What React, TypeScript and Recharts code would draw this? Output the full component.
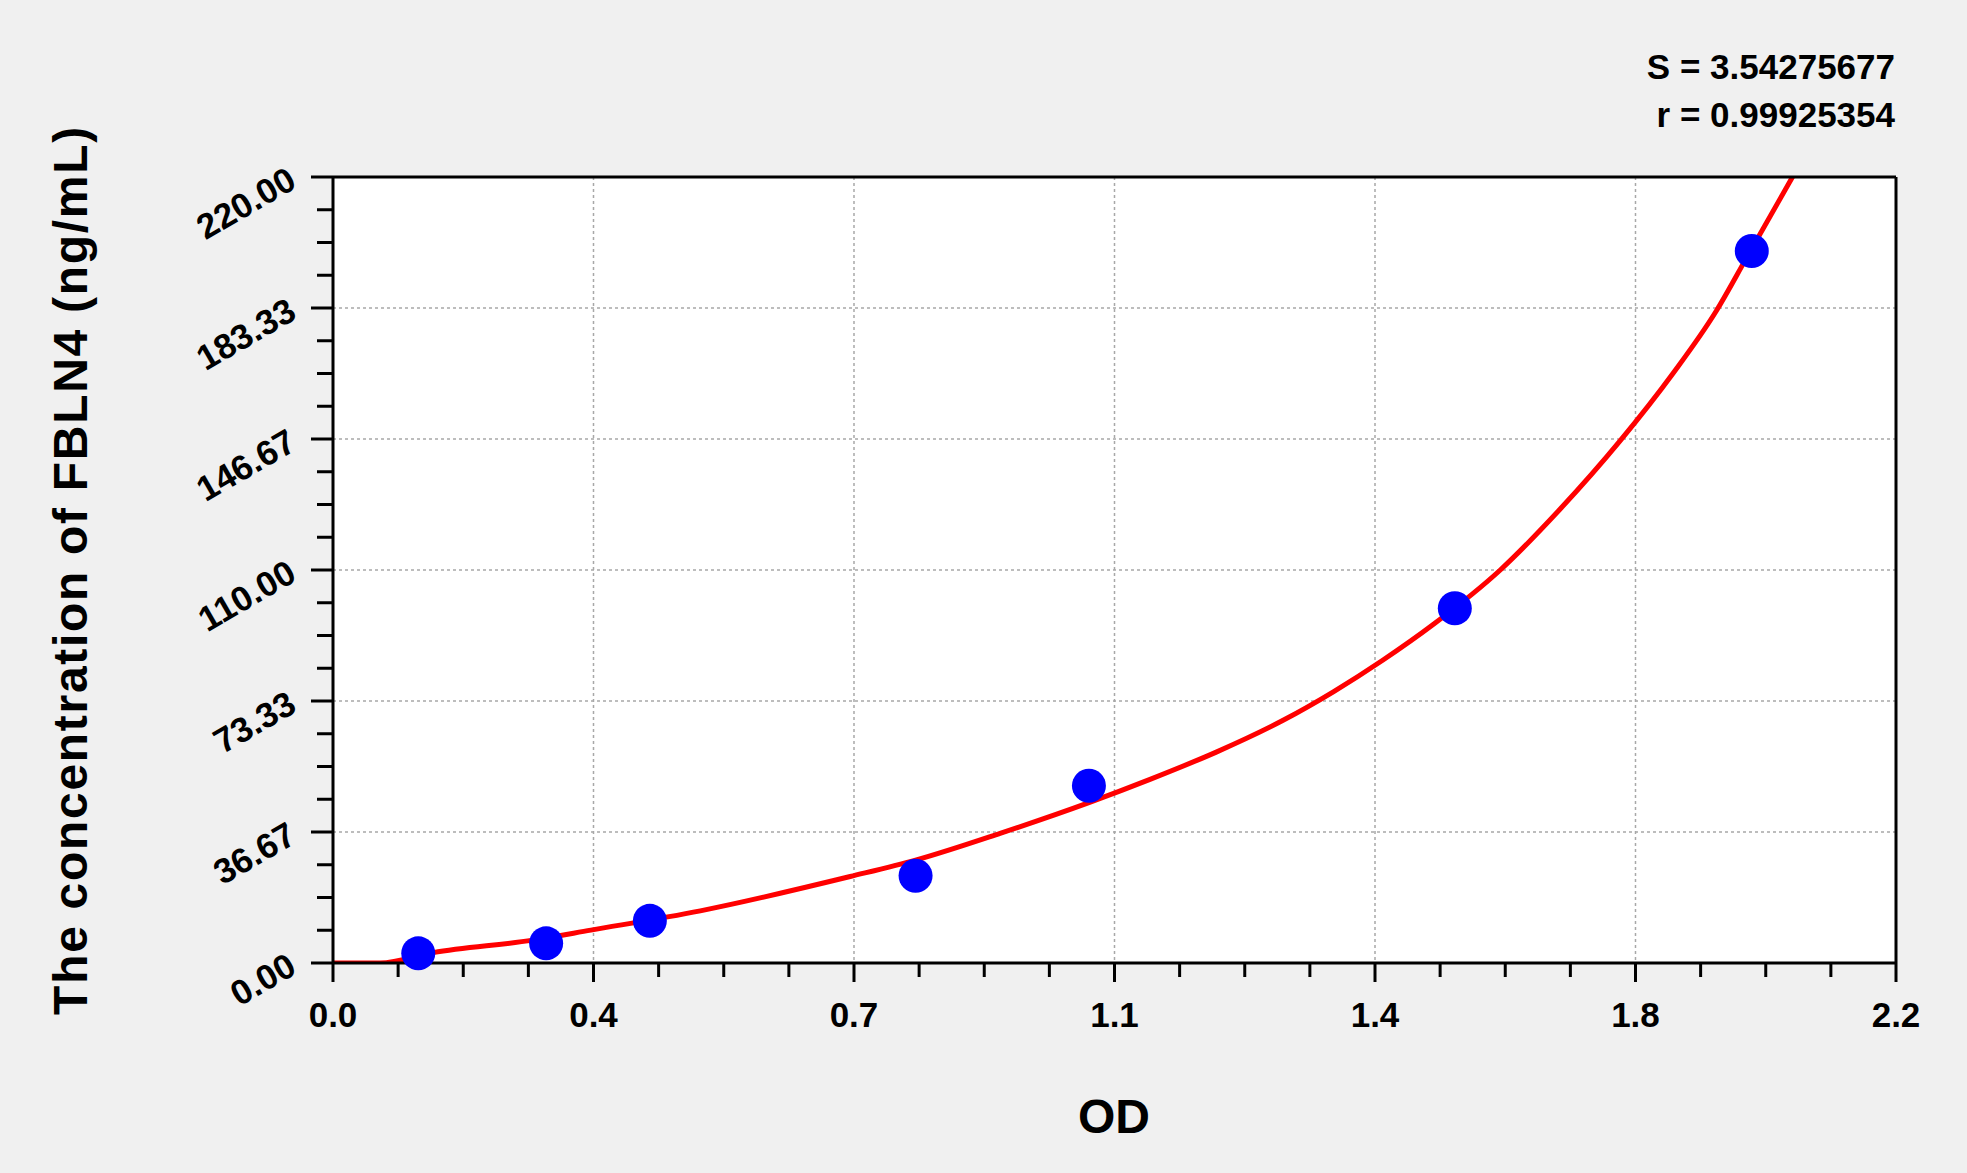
import React from "react";
import { ComposedChart, Line, Scatter, XAxis, YAxis, CartesianGrid } from "recharts";

const W = 1967;
const H = 1173;
const FONT = "'Liberation Sans', Arial, Helvetica, sans-serif";

// standards: OD vs concentration (ng/mL)
const pointOD = [0.12, 0.3, 0.446, 0.82, 1.064, 1.579, 1.997];
const pointConc = [2.7, 5.5, 11.8, 24.4, 49.6, 99.3, 199.3];

// fitted curve
const curveOD = [
  0, 0.066, 0.141, 0.281, 0.363, 0.517, 0.728, 0.82, 0.939, 1.064, 1.15, 1.244,
  1.338, 1.408, 1.478, 1.549, 1.643, 1.727, 1.811, 1.886, 1.947, 1.99, 2.06,
];
const curveConc = [
  0, 0, 2.9, 6.4, 9.2, 14.6, 24.2, 28.8, 36.3, 44.9, 51.4, 59.1,
  68.0, 75.9, 84.8, 94.8, 110.0, 127.0, 146.0, 165.0, 182.5, 197.5, 222.0,
];

const xTicks = [0, 0.36667, 0.73333, 1.1, 1.46667, 1.83333, 2.2];
const xTickLabels = ["0.0", "0.4", "0.7", "1.1", "1.4", "1.8", "2.2"];
const yTicks = [0, 36.667, 73.333, 110, 146.667, 183.333, 220];
const yTickLabels = ["0.00", "36.67", "73.33", "110.00", "146.67", "183.33", "220.00"];

const fitStats = ["S = 3.54275677", "r = 0.99925354"];
const xTitle = "OD";
const yTitle = "The concentration of FBLN4 (ng/mL)";

// major ticks plus three minor ticks between each pair
function withMinor(major: number[]) {
  const out: number[] = [];
  for (let i = 0; i < major.length - 1; i++) {
    const step = (major[i + 1] - major[i]) / 4;
    for (let k = 0; k < 4; k++) out.push(major[i] + step * k);
  }
  out.push(major[major.length - 1]);
  return out;
}

const points = pointOD.map((x, i) => ({ x, y: pointConc[i] }));
const curve = curveOD.map((x, i) => ({ x, y: curveConc[i] }));

function nearest(ticks: number[], v: number) {
  let best = 0;
  ticks.forEach((t, i) => {
    if (Math.abs(t - v) < Math.abs(ticks[best] - v)) best = i;
  });
  return best;
}

function XTick(props: any) {
  const { x, y, payload } = props;
  const i = nearest(xTicks, payload.value);
  const major = Math.abs(xTicks[i] - payload.value) < 1e-6;
  return (
    <g>
      <line x1={x} x2={x} y1={y} y2={y + (major ? 19 : 14)} stroke="#000" strokeWidth={3} />
      {major && (
        <text x={x} y={y + 64} textAnchor="middle" fontFamily={FONT} fontWeight="bold" fontSize={35} fill="#000">
          {xTickLabels[i]}
        </text>
      )}
    </g>
  );
}

function YTick(props: any) {
  const { x, y, payload } = props;
  const i = nearest(yTicks, payload.value);
  const major = Math.abs(yTicks[i] - payload.value) < 1e-6;
  const lx = x - 41;
  return (
    <g>
      <line x1={x} x2={x - (major ? 22 : 16)} y1={y} y2={y} stroke="#000" strokeWidth={3} />
      {major && (
        <text
          x={lx}
          y={y - 1}
          transform={`rotate(-30, ${lx}, ${y - 1})`}
          textAnchor="end"
          dominantBaseline="central"
          fontFamily={FONT}
          fontWeight="bold"
          fontSize={35}
          fill="#000"
        >
          {yTickLabels[i]}
        </text>
      )}
    </g>
  );
}

const dot = (p: any) => <circle cx={p.cx} cy={p.cy} r={17} fill="#0000ff" />;

const frame = { stroke: "#000", strokeWidth: 3 };

export default function App() {
  return (
    <div style={{ position: "absolute", left: 0, top: 0, width: W, height: H, background: "#f0f0f0" }}>
      <ComposedChart width={W} height={H} margin={{ top: 176, right: 70, bottom: 130, left: 233 }}>
        <CartesianGrid
          fill="#ffffff"
          stroke="#a8a8a8"
          strokeDasharray="3 3"
          strokeWidth={1.5}
          verticalValues={xTicks}
          horizontalValues={yTicks}
        />
        <XAxis
          type="number"
          dataKey="x"
          domain={[0, 2.2]}
          ticks={withMinor(xTicks)}
          interval={0}
          height={80}
          tickSize={0}
          tickMargin={0}
          axisLine={frame}
          tickLine={false}
          tick={<XTick />}
        />
        <XAxis
          xAxisId="top"
          orientation="top"
          type="number"
          domain={[0, 2.2]}
          ticks={[0]}
          height={1}
          axisLine={frame}
          tickLine={false}
          tick={false}
        />
        <YAxis
          type="number"
          domain={[0, 220]}
          ticks={withMinor(yTicks)}
          interval={0}
          width={100}
          tickSize={0}
          tickMargin={0}
          axisLine={frame}
          tickLine={false}
          tick={<YTick />}
        />
        <YAxis
          yAxisId="right"
          orientation="right"
          type="number"
          domain={[0, 220]}
          ticks={[0]}
          width={1}
          axisLine={frame}
          tickLine={false}
          tick={false}
        />
        <YAxis yAxisId="curve" type="number" domain={[0, 220]} allowDataOverflow hide />
        <Scatter data={points} dataKey="y" shape={dot} isAnimationActive={false} />
        <Line
          yAxisId="curve"
          data={curve}
          dataKey="y"
          type="monotone"
          stroke="#ff0000"
          strokeWidth={5}
          dot={false}
          activeDot={false}
          isAnimationActive={false}
        />
      </ComposedChart>
      <svg width={W} height={H} style={{ position: "absolute", left: 0, top: 0, pointerEvents: "none" }}>
        <g fontFamily={FONT} fontWeight="bold" fill="#000">
          <text x={1895} y={79} textAnchor="end" fontSize={35}>{fitStats[0]}</text>
          <text x={1895} y={127} textAnchor="end" fontSize={35}>{fitStats[1]}</text>
          <text x={1114} y={1133} textAnchor="middle" fontSize={48}>{xTitle}</text>
          <text
            x={87}
            y={570}
            transform="rotate(-90, 87, 570)"
            textAnchor="middle"
            fontSize={48}
            letterSpacing={1.7}
          >
            {yTitle}
          </text>
        </g>
      </svg>
    </div>
  );
}
